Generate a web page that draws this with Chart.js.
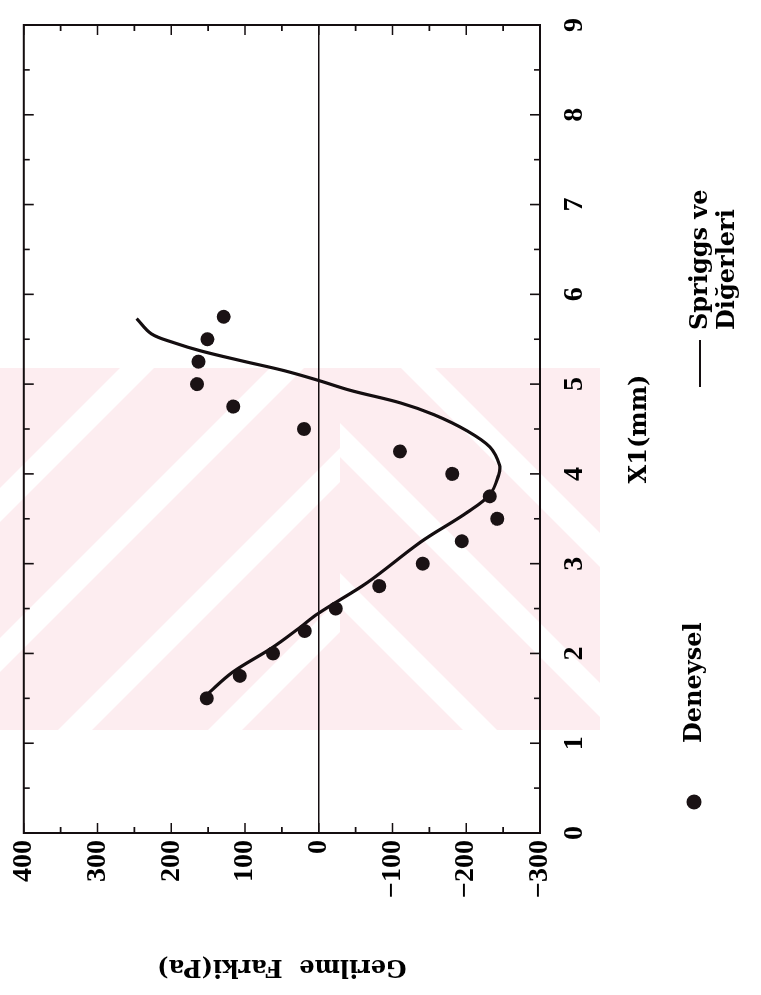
<!DOCTYPE html>
<html>
<head>
<meta charset="utf-8">
<script src="https://cdn.jsdelivr.net/npm/chart.js@4.4.1/dist/chart.umd.min.js"></script>
<style>
  html, body { margin: 0; padding: 0; background: #fff; overflow: hidden; }
  #page { position: relative; width: 761px; height: 995px; overflow: hidden; background: #fff; }
  /* the figure is laid out landscape and turned a quarter turn counter-clockwise */
  #frame { position: absolute; left: 0; top: 0; width: 995px; height: 761px;
           transform-origin: 0 0; transform: translateY(995px) rotate(-90deg); }
</style>
</head>
<body>
<div id="page"><div id="frame"><canvas id="c" width="995" height="761"></canvas></div></div>
<script>
// Deneysel: measured stress difference along X1
const expX1     = [1.5, 1.75, 2.0, 2.25, 2.5, 2.75, 3.0, 3.25, 3.5, 3.75, 4.0, 4.25, 4.5, 4.75, 5.0, 5.25, 5.5, 5.75];
const expStress = [152, 107, 62, 19, -23, -82, -141, -194, -242, -232, -181, -110, 20, 116, 165, 163, 151, 129];

// Spriggs ve Diğerleri: model curve
const modelX1     = [1.54, 1.79, 2.06, 2.28, 2.45, 2.79, 3.24, 3.57, 3.77, 3.99, 4.10, 4.30, 4.48, 4.66, 4.79, 4.93, 5.04, 5.15, 5.26, 5.37, 5.46, 5.56, 5.73];
const modelStress = [152, 117, 64, 27, 0, -66, -138, -201, -232, -244, -245, -232, -201, -156, -111, -43, 0, 47, 105, 160, 196, 227, 247];

// axis tick labels
const x1Labels     = [0, 1, 2, 3, 4, 5, 6, 7, 8, 9];
const stressLabels = [400, 300, 200, 100, 0, -100, -200, -300];

const xTitle = 'X1(mm)';
const yTitle = 'Gerilme  Farki(Pa)';
const legendNames = ['Deneysel', ['Spriggs ve', 'Diğerleri']];

const INK = '#140e10';
const tickFont = { family: 'Liberation Serif', weight: 'bold', size: 28 };
const titleFont = { family: 'DejaVu Serif', weight: 'bold', size: 24 };

// pale watermark behind the plot, drawn in page orientation
const watermark = {
  id: 'watermark',
  beforeDraw(chart) {
    const ctx = chart.ctx;
    ctx.save();
    ctx.transform(0, 1, -1, 0, 995, 0);
    ctx.beginPath();
    ctx.rect(0, 368, 600, 362);
    ctx.clip();
    ctx.fillStyle = '#fdedf0';
    ctx.fillRect(0, 368, 600, 362);
    ctx.strokeStyle = '#ffffff';
    ctx.lineWidth = 24;
    ctx.lineCap = 'butt';
    // "/" bands on the left part
    ctx.save();
    ctx.beginPath(); ctx.rect(0, 368, 340, 362); ctx.clip();
    [505, 655, 805, 955].forEach(c => {
      ctx.beginPath(); ctx.moveTo(c - 800, 800); ctx.lineTo(c, 0); ctx.stroke();
    });
    ctx.restore();
    // "\" bands on the right part
    ctx.save();
    ctx.beginPath(); ctx.rect(340, 368, 260, 362); ctx.clip();
    [-250, -100, 50].forEach(c => {
      ctx.beginPath(); ctx.moveTo(c, 0); ctx.lineTo(c + 800, 800); ctx.stroke();
    });
    ctx.restore();
    ctx.restore();
  }
};

// closed frame with inward tick marks on all four sides, plus the legend
const frame = {
  id: 'frame',
  afterDraw(chart) {
    const ctx = chart.ctx;
    const { left, right, top, bottom } = chart.chartArea;
    const xs = chart.scales.x, ys = chart.scales.y;
    ctx.save();
    ctx.strokeStyle = INK;
    ctx.lineWidth = 2;
    ctx.strokeRect(left, top, right - left, bottom - top);
    ctx.lineWidth = 1.6;
    ctx.beginPath();
    xs.ticks.forEach(t => {
      const px = xs.getPixelForValue(t.value);
      const len = Number.isInteger(t.value) ? 10 : 6;
      ctx.moveTo(px, bottom); ctx.lineTo(px, bottom - len);
      ctx.moveTo(px, top); ctx.lineTo(px, top + len);
    });
    ys.ticks.forEach(t => {
      const py = ys.getPixelForValue(t.value);
      const len = t.value % 100 === 0 ? 10 : 6;
      ctx.moveTo(left, py); ctx.lineTo(left + len, py);
      ctx.moveTo(right, py); ctx.lineTo(right - len, py);
    });
    ctx.stroke();

    // legend
    const pts = chart.data.datasets[0];
    const crv = chart.data.datasets[1];
    ctx.fillStyle = pts.pointBackgroundColor;
    ctx.beginPath(); ctx.arc(193, 694, 7.5, 0, Math.PI * 2); ctx.fill();
    ctx.strokeStyle = crv.borderColor;
    ctx.lineWidth = 2;
    ctx.beginPath(); ctx.moveTo(608, 700); ctx.lineTo(655, 700); ctx.stroke();
    ctx.fillStyle = '#000';
    ctx.font = 'bold 24px "DejaVu Serif"';
    ctx.textBaseline = 'middle';
    ctx.textAlign = 'left';
    ctx.fillText(pts.label, 252, 695);
    ctx.fillText(legendNames[1][0], 665, 701);
    ctx.fillText(legendNames[1][1], 665, 728);
    ctx.restore();
  }
};

const fmt = v => (v < 0 ? '\u2212' + Math.abs(v) : String(v));

new Chart(document.getElementById('c'), {
  type: 'scatter',
  data: {
    datasets: [
      {
        label: legendNames[0],
        data: expX1.map((x, i) => ({ x, y: expStress[i] })),
        showLine: false,
        pointRadius: 7,
        pointBackgroundColor: '#1a1214',
        pointBorderWidth: 0,
        order: 1
      },
      {
        label: legendNames[1].join(' '),
        data: modelX1.map((x, i) => ({ x, y: modelStress[i] })),
        showLine: true,
        pointRadius: 0,
        borderColor: INK,
        borderWidth: 3.2,
        tension: 0.35,
        fill: false,
        order: 2
      }
    ]
  },
  options: {
    responsive: false,
    animation: false,
    devicePixelRatio: 1,
    layout: { padding: { left: 0, right: 6, top: 22, bottom: 107 } },
    plugins: { legend: { display: false }, tooltip: { enabled: false } },
    scales: {
      x: {
        type: 'linear', position: 'bottom', min: 0, max: 9,
        ticks: {
          stepSize: 0.5, autoSkip: false, maxRotation: 0, minRotation: 0,
          padding: 18, color: '#000', font: tickFont,
          callback: v => (x1Labels.includes(v) ? String(v) : '')
        },
        grid: { display: false, drawTicks: false },
        border: { display: true, color: INK, width: 2 },
        title: { display: true, text: xTitle, color: '#000', font: titleFont, padding: 0 },
        afterFit: s => { s.height = 654 - 540; }
      },
      y: {
        type: 'linear', position: 'left', min: -300, max: 400,
        ticks: {
          stepSize: 50, autoSkip: false, padding: 7, color: '#000', font: tickFont,
          callback: v => (stressLabels.includes(v) ? fmt(v) : '')
        },
        grid: {
          drawTicks: false,
          lineWidth: 1.5,
          color: c => (c.tick && c.tick.value === 0 ? INK : 'rgba(0,0,0,0)')
        },
        border: { display: true, color: INK, width: 2 },
        title: { display: true, text: yTitle, color: '#000', font: titleFont, padding: { top: 14, bottom: 0 } },
        afterFit: s => { s.width = 162; }
      }
    }
  },
  plugins: [watermark, frame]
});
</script>
</body>
</html>
